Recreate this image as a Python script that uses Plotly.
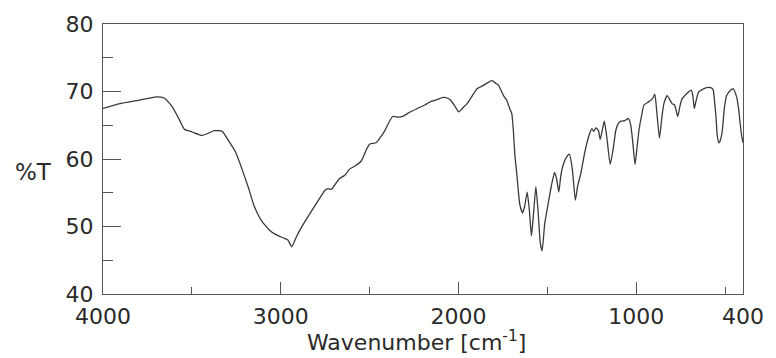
import plotly.graph_objects as go

# IR spectrum (wavenumber cm-1, %T)
wavenumber = [4000, 3905, 3800, 3700, 3654, 3609, 3570, 3542, 3498, 3442, 3400, 3375, 3330, 3291,
              3252, 3218, 3180, 3152, 3107, 3057, 3012, 2984, 2960, 2938, 2910, 2863, 2815, 2771,
              2750, 2733, 2715, 2690, 2669, 2640, 2613, 2580, 2547, 2520, 2501, 2464, 2440, 2417,
              2371, 2340, 2315, 2270, 2231, 2190, 2157, 2120, 2092, 2060, 2045, 2020, 1999, 1975,
              1952, 1920, 1896, 1860, 1830, 1812, 1790, 1775, 1747, 1729, 1710, 1701, 1692, 1683,
              1673, 1663, 1655, 1640, 1628, 1614, 1602, 1590, 1578, 1565, 1552, 1540, 1530, 1515,
              1497, 1478, 1460, 1448, 1436, 1425, 1413, 1390, 1376, 1360, 1343, 1330, 1311, 1290,
              1265, 1250, 1240, 1227, 1213, 1203, 1190, 1180, 1165, 1147, 1130, 1115, 1100, 1087,
              1065, 1045, 1032, 1020, 1007, 995, 985, 970, 957, 929, 910, 896, 885, 870, 857, 845,
              827, 812, 799, 785, 767, 755, 743, 720, 691, 683, 674, 665, 650, 622, 590, 576, 567,
              560, 552, 545, 535, 525, 516, 505, 492, 470, 455, 436, 425, 418, 408, 400]
transmittance = [67.5, 68.2, 68.7, 69.2, 69.0, 67.7, 65.8, 64.4, 64.0, 63.5, 63.9, 64.2, 64.1, 62.6,
                 60.9, 58.5, 55.6, 53.2, 50.8, 49.3, 48.6, 48.3, 48.0, 47.0, 48.6, 50.8, 52.8, 54.6,
                 55.4, 55.6, 55.5, 56.4, 57.1, 57.6, 58.5, 59.0, 59.7, 61.3, 62.2, 62.4, 63.2, 64.1,
                 66.3, 66.2, 66.3, 67.0, 67.5, 68.0, 68.5, 68.8, 69.1, 69.0, 68.7, 67.8, 67.0, 67.6,
                 68.2, 69.5, 70.4, 70.9, 71.4, 71.6, 71.2, 70.9, 69.4, 68.7, 67.3, 66.8, 64.3, 60.5,
                 58.0, 55.0, 53.2, 52.0, 53.0, 55.1, 52.5, 48.6, 52.0, 55.9, 52.0, 47.5, 46.4, 50.5,
                 53.2, 56.0, 58.0, 57.0, 55.1, 57.5, 59.0, 60.4, 60.7, 58.5, 53.9, 56.0, 58.0, 61.0,
                 63.6, 64.5, 64.1, 64.6, 64.2, 62.9, 64.5, 65.6, 63.0, 59.2, 61.5, 64.3, 65.3, 65.6,
                 65.7, 66.0, 65.1, 62.5, 59.2, 62.0, 64.3, 66.5, 68.0, 68.5, 68.9, 69.6, 67.0, 63.1,
                 66.0, 68.2, 69.4, 68.8, 68.2, 68.0, 66.3, 67.8, 68.9, 69.6, 70.2, 69.5, 67.5, 68.5,
                 69.9, 70.4, 70.6, 70.5, 70.2, 68.5, 66.3, 63.5, 62.4, 63.0, 64.3, 67.5, 69.4, 70.2,
                 70.4, 69.2, 67.5, 65.8, 63.5, 62.4]

x_tick_vals = [4000, 3000, 2000, 1000, 400]
x_tick_text = ["4000", "3000", "2000", "1000", "400"]
x_minor_vals = [3500, 2500, 1500, 500]
y_tick_vals = [40, 50, 60, 70, 80]
y_minor_vals = [45, 55, 65, 75]

FONT = "DejaVu Sans"
INK = "#2a2a2a"
AXIS = "#555555"

fig = go.Figure()
fig.add_trace(go.Scatter(x=wavenumber, y=transmittance, mode="lines",
                         line=dict(color="#3a3a3a", width=1.3, shape="spline", smoothing=0.5),
                         showlegend=False, hoverinfo="skip"))

fig.update_layout(
    width=776, height=358,
    margin=dict(l=103, r=28, t=19, b=64),
    paper_bgcolor="white", plot_bgcolor="white",
    xaxis=dict(range=[4000, 400], showgrid=False, zeroline=False,
               showline=True, linecolor=AXIS, linewidth=1.2, mirror=True,
               ticks="inside", ticklen=12, tickwidth=1.2, tickcolor=AXIS,
               tickmode="array", tickvals=x_tick_vals, ticktext=x_tick_text,
               ticklabelstandoff=2,
               tickfont=dict(family=FONT, size=22, color=INK),
               minor=dict(tickmode="array", tickvals=x_minor_vals, ticks="inside",
                          ticklen=7, tickwidth=1.2, tickcolor=AXIS, showgrid=False)),
    yaxis=dict(range=[40, 80], showgrid=False, zeroline=False,
               showline=True, linecolor=AXIS, linewidth=1.2, mirror=True,
               ticks="inside", ticklen=18, tickwidth=1.2, tickcolor=AXIS,
               tickmode="array", tickvals=y_tick_vals,
               ticklabelstandoff=4,
               tickfont=dict(family=FONT, size=22, color=INK),
               minor=dict(tickmode="array", tickvals=y_minor_vals, ticks="inside",
                          ticklen=10, tickwidth=1.2, tickcolor=AXIS, showgrid=False)),
    annotations=[
        dict(text="Wavenumber [cm<sup>-1</sup>]", x=0.49, y=-0.175, xref="paper", yref="paper",
             xanchor="center", yanchor="middle", showarrow=False,
             font=dict(family=FONT, size=22, color=INK)),
        dict(text="%T", x=-0.1085, y=0.451, xref="paper", yref="paper",
             xanchor="center", yanchor="middle", showarrow=False,
             font=dict(family=FONT, size=23, color=INK)),
    ],
)

fig.write_html("out.html")
